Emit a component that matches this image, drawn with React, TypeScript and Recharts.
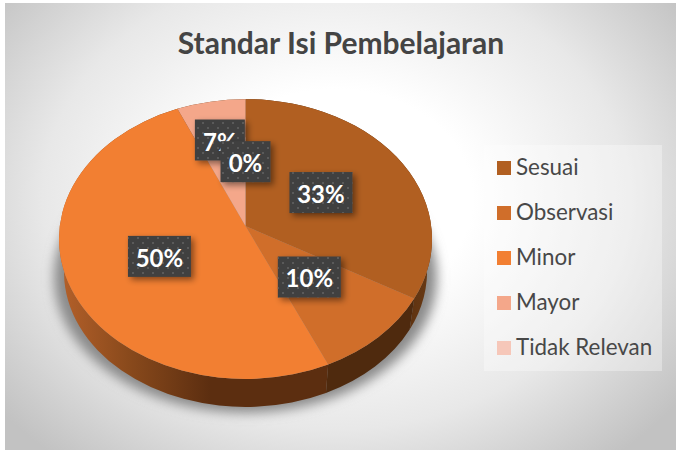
import React from 'react';
import { PieChart, Pie, Legend } from 'recharts';

const categories = ['Sesuai', 'Observasi', 'Minor', 'Mayor', 'Tidak Relevan'];
const values = [33, 10, 50, 7, 0];
const faceColors = ['#B15F21', '#D06E2A', '#F27F32', '#F4A78A', '#F6C7B9'];
const wallFills = ['url(#wallRight)', '#4F2A0E', 'url(#wallLeft)', '#6B3A14', '#6B3A14'];
const labelReach = [0.47, 0.5, 0.51, 0.63, 0.46];

const data = categories.map((name, i) => ({ name, value: values[i], fill: faceColors[i], wall: wallFills[i] }));
const total = values.reduce((a, b) => a + b, 0);
const shadowData = [{ name: 'shadow', value: total }];

const SQUASH = 0.75;
const APEX_LIFT = 13;
const DEPTH_CY = 33;
const DEPTH_RX = 5;
const DEPTH_RY = 5;
const FONT = 'Lato, Carlito, Calibri, sans-serif';

// the reference's 3D tilt pulls slice edges toward the far side of the disc
const tilt = (angle: number) => {
  const c = ((90 - angle) * Math.PI) / 180;
  const shift = -Math.sin(c) * (5.75 + 3.48 * Math.cos(c));
  return angle - shift;
};

const rim = (cx: number, cy: number, rx: number, ry: number, angle: number) => {
  const t = (tilt(angle) * Math.PI) / 180;
  return { x: cx + rx * Math.cos(t), y: cy - ry * Math.sin(t) };
};

const isLarge = (p: any) => (Math.abs(tilt(p.startAngle) - tilt(p.endAngle)) > 180 ? 1 : 0);

const FaceShape = (p: any) => {
  if (p.startAngle === p.endAngle) return <g />;
  const ry = p.outerRadius * SQUASH;
  const a = rim(p.cx, p.cy, p.outerRadius, ry, p.startAngle);
  const b = rim(p.cx, p.cy, p.outerRadius, ry, p.endAngle);
  return (
    <path
      d={`M${p.cx},${p.cy - APEX_LIFT}L${a.x},${a.y}A${p.outerRadius},${ry} 0 ${isLarge(p)} 1 ${b.x},${b.y}Z`}
      fill={p.fill}
      stroke="none"
    />
  );
};

const WallShape = (p: any) => {
  if (p.startAngle === p.endAngle) return <g />;
  const rx = p.outerRadius;
  const ry = rx * SQUASH;
  const rx2 = rx - DEPTH_RX;
  const ry2 = ry - DEPTH_RY;
  const cy2 = p.cy + DEPTH_CY;
  const a = rim(p.cx, p.cy, rx, ry, p.startAngle);
  const b = rim(p.cx, p.cy, rx, ry, p.endAngle);
  const a2 = rim(p.cx, cy2, rx2, ry2, p.startAngle);
  const b2 = rim(p.cx, cy2, rx2, ry2, p.endAngle);
  const large = isLarge(p);
  return (
    <path
      d={`M${a.x},${a.y}A${rx},${ry} 0 ${large} 1 ${b.x},${b.y}L${b2.x},${b2.y}A${rx2},${ry2} 0 ${large} 0 ${a2.x},${a2.y}Z`}
      fill={p.payload.wall}
      stroke="none"
    />
  );
};

const ShadowShape = (p: any) => (
  <ellipse
    cx={p.cx}
    cy={p.cy + DEPTH_CY + 5}
    rx={p.outerRadius + 5}
    ry={p.outerRadius * SQUASH - 4}
    fill="#8a8a8a"
    filter="url(#pieShadow)"
  />
);

const renderLabel = (p: any) => {
  const t = (p.midAngle * Math.PI) / 180;
  const reach = labelReach[p.index];
  const x = p.cx + p.outerRadius * reach * Math.cos(t);
  const y = p.cy - APEX_LIFT - p.outerRadius * SQUASH * reach * Math.sin(t);
  const text = `${Math.round((p.value / total) * 100)}%`;
  const w = text.length * 13 + 24;
  const h = 41;
  return (
    <g key={p.name}>
      <rect x={x - w / 2} y={y - h / 2} width={w} height={h} fill="#404040" filter="url(#boxShadow)" />
      <rect x={x - w / 2} y={y - h / 2} width={w} height={h} fill="url(#dots)" />
      <text
        x={x}
        y={y + 1}
        textAnchor="middle"
        dominantBaseline="central"
        fontFamily={FONT}
        fontWeight={700}
        fontSize={24}
        fill="#fff"
      >
        {text}
      </text>
    </g>
  );
};

const LegendBox = ({ payload }: any) => {
  const items = categories
    .map((c) => (payload || []).find((e: any) => e.value === c))
    .filter(Boolean);
  return (
    <div
      style={{
        width: 178,
        height: 226,
        boxSizing: 'border-box',
        background: 'rgba(255,255,255,0.33)',
        fontFamily: FONT,
      }}
    >
      {items.map((e: any) => (
        <div key={e.value} style={{ height: 45, display: 'flex', alignItems: 'center' }}>
          <span style={{ width: 14, height: 14, marginLeft: 13, background: e.color, display: 'inline-block', flex: 'none' }} />
          <span style={{ marginLeft: 5, fontSize: 22.4, color: '#484848', whiteSpace: 'nowrap', position: 'relative', top: -1 }}>{e.value}</span>
        </div>
      ))}
    </div>
  );
};

export default function App() {
  return (
    <div style={{ position: 'absolute', left: 0, top: 0, width: 676, height: 450, background: '#fff', overflow: 'hidden' }}>
      <div
        style={{
          position: 'absolute',
          left: 5,
          top: 3,
          width: 671,
          height: 447,
          background:
            'radial-gradient(ellipse 430px 340px at 330px 195px, #ffffff 0%, #ffffff 32%, #e8e8e8 68%, #c2c2c2 100%)',
        }}
      />
      <div
        style={{
          position: 'absolute',
          left: 0,
          top: 23,
          width: 682,
          textAlign: 'center',
          fontFamily: FONT,
          fontWeight: 700,
          fontSize: 30,
          lineHeight: '38px',
          color: '#444',
        }}
      >
        Standar Isi Pembelajaran
      </div>
      <svg width={0} height={0} style={{ position: 'absolute' }}>
        <defs>
          <linearGradient id="wallLeft" gradientUnits="userSpaceOnUse" x1={60} y1={0} x2={210} y2={0}>
            <stop offset="0%" stopColor="#B4602A" />
            <stop offset="45%" stopColor="#8A4A1C" />
            <stop offset="100%" stopColor="#5C2E10" />
          </linearGradient>
          <linearGradient id="wallRight" gradientUnits="userSpaceOnUse" x1={380} y1={0} x2={432} y2={0}>
            <stop offset="0%" stopColor="#4F2A0E" />
            <stop offset="100%" stopColor="#6A3A14" />
          </linearGradient>
          <filter id="pieShadow" x="-20%" y="-20%" width="140%" height="140%">
            <feGaussianBlur stdDeviation="6" />
          </filter>
          <filter id="boxShadow" x="-30%" y="-30%" width="170%" height="170%">
            <feDropShadow dx="3" dy="3" stdDeviation="3" floodColor="#000" floodOpacity="0.45" />
          </filter>
          <pattern id="dots" patternUnits="userSpaceOnUse" width={10} height={10}>
            <rect x={2} y={2} width={2} height={2} fill="#5a5a5a" />
            <rect x={7} y={7} width={2} height={2} fill="#5a5a5a" />
          </pattern>
        </defs>
      </svg>
      <div style={{ position: 'absolute', left: 0, top: 0 }}>
        <PieChart width={676} height={450} margin={{ top: 0, right: 0, bottom: 0, left: 0 }}>
          <Pie
            data={shadowData}
            dataKey="value"
            nameKey="name"
            cx={245.5}
            cy={239}
            outerRadius={186.5}
            startAngle={90}
            endAngle={-270}
            stroke="none"
            legendType="none"
            isAnimationActive={false}
            shape={ShadowShape}
          />
          <Pie
            data={data}
            dataKey="value"
            nameKey="name"
            cx={245.5}
            cy={239}
            outerRadius={186.5}
            startAngle={90}
            endAngle={-270}
            stroke="none"
            legendType="none"
            isAnimationActive={false}
            shape={WallShape}
          />
          <Pie
            data={data}
            dataKey="value"
            nameKey="name"
            cx={245.5}
            cy={239}
            outerRadius={186.5}
            startAngle={90}
            endAngle={-270}
            stroke="none"
            legendType="square"
            isAnimationActive={false}
            shape={FaceShape}
            label={renderLabel}
            labelLine={false}
          />
          <Legend
            layout="vertical"
            content={<LegendBox />}
            wrapperStyle={{ position: 'absolute', left: 484, top: 145, width: 178, height: 226 }}
          />
        </PieChart>
      </div>
    </div>
  );
}
